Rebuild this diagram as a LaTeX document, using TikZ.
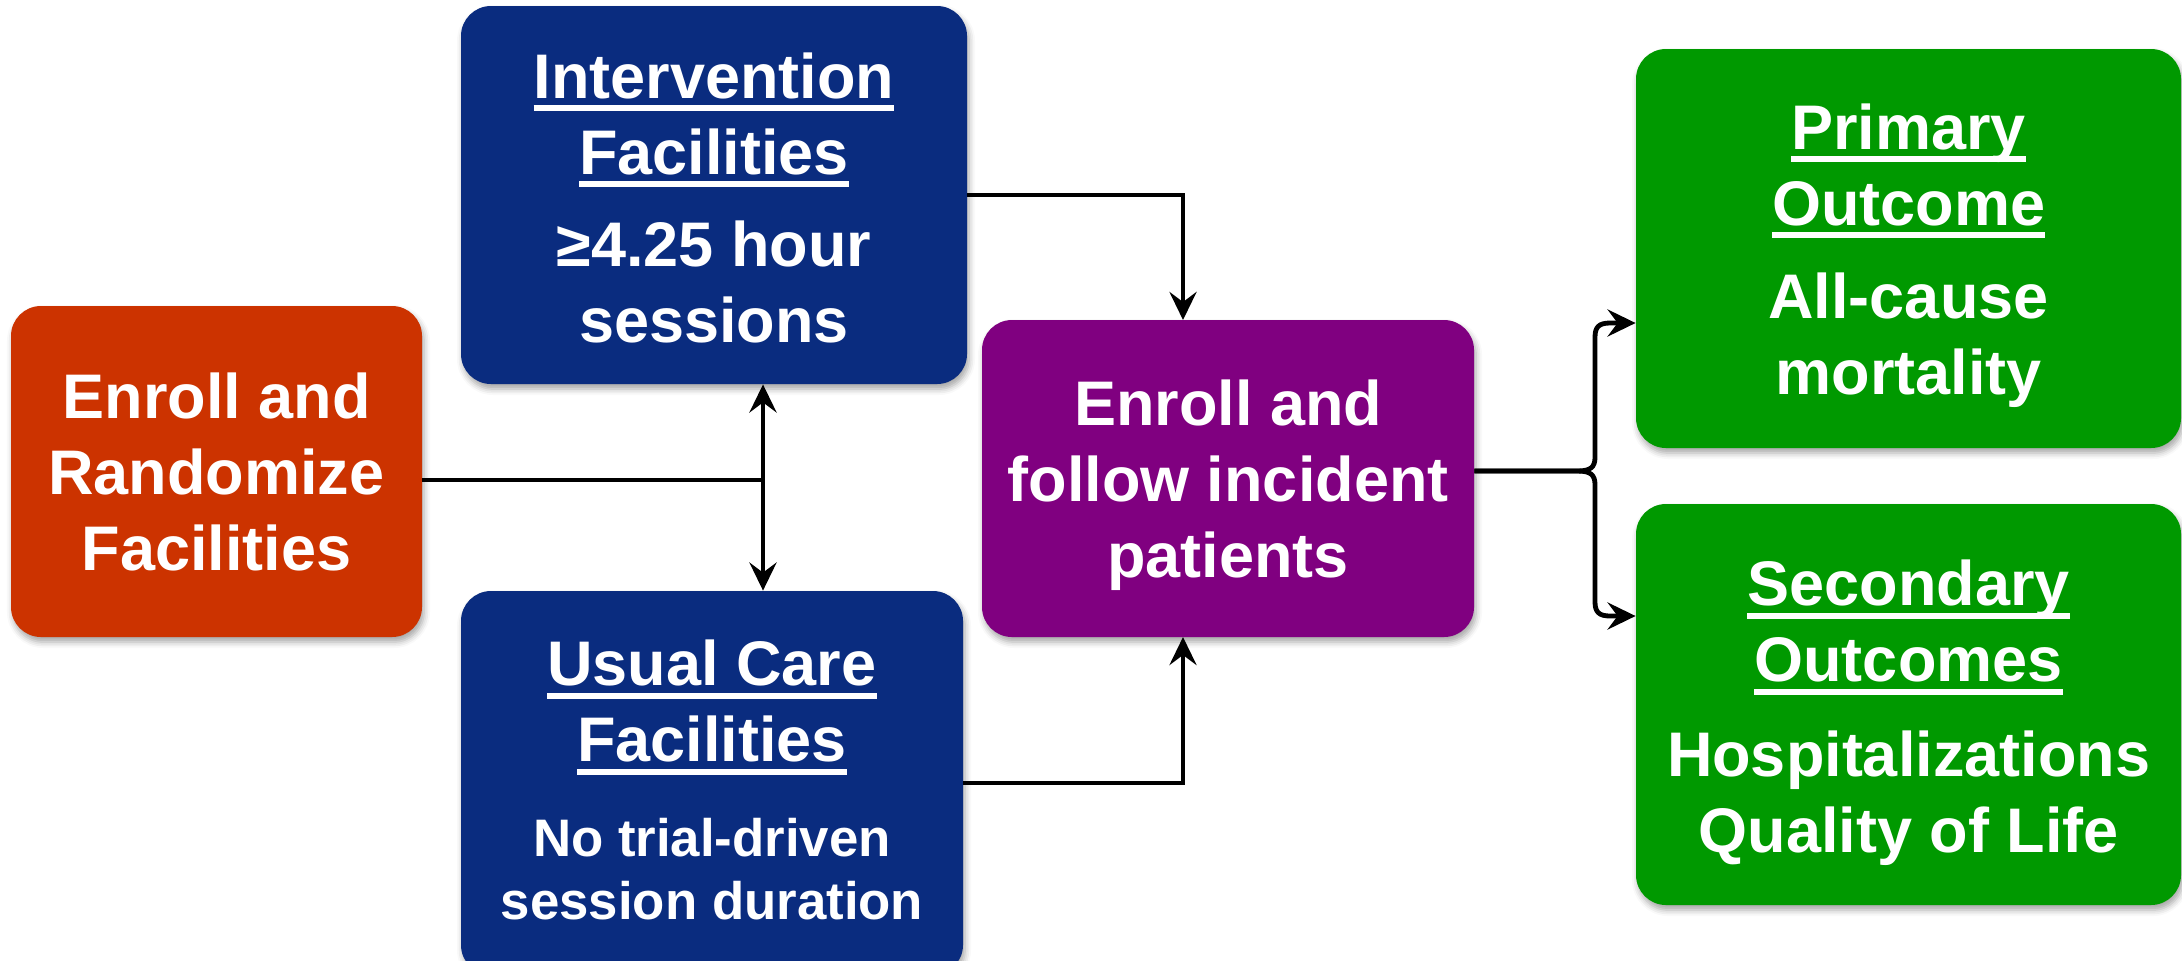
\documentclass[tikz,border=0pt]{standalone}
\usepackage{fontspec}
\setmainfont{Liberation Sans}
\usetikzlibrary{arrows.meta,shadows.blur}
\definecolor{cOrange}{HTML}{CC3300}
\definecolor{cBlue}{HTML}{0A2C7F}
\definecolor{cPurple}{HTML}{800080}
\definecolor{cGreen}{HTML}{009900}
\newcommand\hdl[1]{\setbox0\hbox{#1}\rlap{\rule[-6.5pt]{\wd0}{3pt}}\box0}
\newcommand\smallbody{\fontsize{26.4}{31.5}\selectfont}
\newcommand\tpad[1]{\rule{0pt}{#1}}
\begin{document}
\begin{tikzpicture}[x=0.5pt,y=-0.5pt,
  box/.style={rounded corners=15pt, inner sep=0pt, text=white, align=center,
    font=\fontsize{31.5}{38}\selectfont\bfseries,
    blur shadow={shadow xshift=1pt, shadow yshift=-2.5pt, shadow blur radius=3pt, shadow opacity=35}},
  conn/.style={line width=2.4pt, black},
  tip/.style={-{Stealth[length=14pt,width=13.5pt,inset=5pt]}},
  arr/.style={conn, tip},
]
\useasboundingbox (0,0) rectangle (2182,960);

\node[box, fill=cOrange, minimum width=205.5pt, minimum height=165.5pt] (rand) at (216.5,471.5)
  {Enroll and\\Randomize\\Facilities};
\node[box, fill=cBlue, minimum width=253pt, minimum height=189pt] (interv) at (714,195)
  {\tpad{25.5pt}\hdl{Intervention}\\\hdl{Facilities}\\[8pt]≥4.25 hour\\sessions};
\node[box, fill=cBlue, minimum width=251pt, minimum height=192pt] (usual) at (712,783)
  {\hdl{Usual Care}\\\hdl{Facilities}\\[9.5pt]\smallbody No trial-driven\\[-6.5pt]\smallbody session duration\rule[-3pt]{0pt}{3pt}};
\node[box, fill=cPurple, minimum width=246pt, minimum height=158.5pt] (enroll) at (1228,478.5)
  {\tpad{29.2pt}Enroll and\\follow incident\\patients};
\node[box, fill=cGreen, minimum width=272.5pt, minimum height=199.5pt] (prim) at (1908.5,248.5)
  {\tpad{30pt}\hdl{Primary}\\\hdl{Outcome}\\[8.5pt]All-cause\\mortality};
\node[box, fill=cGreen, minimum width=272.5pt, minimum height=200.5pt] (sec) at (1908.5,704.5)
  {\tpad{31.5pt}\hdl{Secondary}\\\hdl{Outcomes}\\[9.5pt]Hospitalizations\\Quality of Life};

\coordinate (j) at (763,480);
\coordinate (pin) at (1183,320);
\coordinate (pout) at (1183,637);
\coordinate (bm) at (1577,471);
\coordinate (bu) at (1610,323);
\coordinate (bd) at (1610,616);

\draw[conn] (rand.east |- j) -- (j);
\draw[conn, {Stealth[length=14pt,width=13.5pt,inset=5pt]}-{Stealth[length=14pt,width=13.5pt,inset=5pt]}]
  (interv.south -| j) -- (usual.north -| j);
\draw[arr] (interv.east) -| (pin);
\draw[arr] (usual.east) -| (pout);

\draw[arr] (enroll.east |- bm) -- (bm) .. controls (1591,471) and (1595,467) .. (1595,457)
  -- (1595,337) .. controls (1595,327) and (1599,323) .. (bu) -- (prim.west |- bu);
\draw[arr] (enroll.east |- bm) -- (bm) .. controls (1591,471) and (1595,475) .. (1595,485)
  -- (1595,602) .. controls (1595,612) and (1599,616) .. (bd) -- (sec.west |- bd);
\end{tikzpicture}
\end{document}
